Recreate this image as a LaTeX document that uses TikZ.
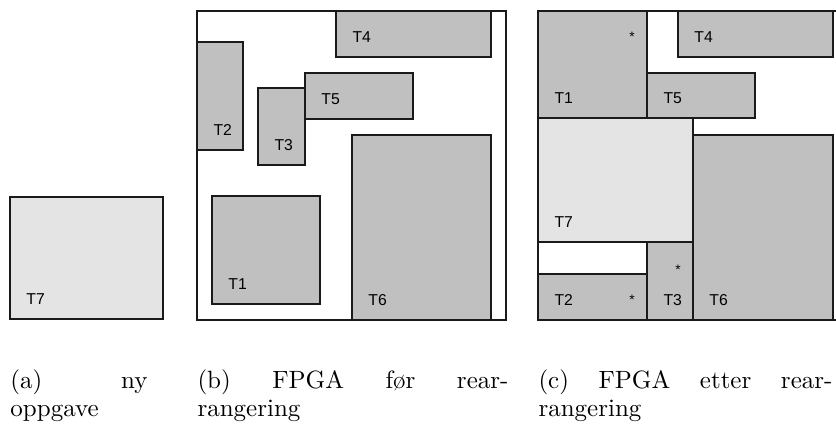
\documentclass[tikz,border=0pt]{standalone}
\usepackage{fontspec}
\newfontfamily\tasklabelfont{Liberation Sans}
\definecolor{taskgray}{HTML}{C0C0C0}
\definecolor{newtask}{HTML}{E4E4E4}
\definecolor{edge}{HTML}{1A1A1A}
\tikzset{
  frame/.style={draw=edge, line width=0.7pt},
  placed/.style={draw=edge, line width=0.7pt, fill=taskgray},
  incoming/.style={draw=edge, line width=0.7pt, fill=newtask},
  tlabel/.style={anchor=base west, inner sep=0pt, text=black,
                 font=\tasklabelfont\fontsize{6.3}{7}\selectfont},
  marker/.style={anchor=base, inner sep=0pt, text=black,
                 font=\tasklabelfont\fontsize{5.5}{6}\selectfont},
  subcap/.style={anchor=base west, inner sep=0pt,
                 font=\fontsize{10}{11.5}\selectfont},
}
% task rectangle with its label in the lower left corner
% #1 name, #2..#5 corners (x1,y1,x2,y2), #6 style, #7 label
\newcommand\taskbox[7]{%
  \draw[#6] (#2,#3) rectangle (#4,#5);
  \node[tlabel] (#1) at ({#2+16},{#5-15}) {#7};
}
\begin{document}
\begin{tikzpicture}[x=0.4pt, y=-0.4pt]
\useasboundingbox (0,0) rectangle (836,423);

% (a) the new task
\taskbox{a-T7}{10}{197}{163}{319}{incoming}{T7}

% (b) device before rearrangement
\draw[frame] (197,11) rectangle (506,320);
\taskbox{b-T4}{336}{11}{491}{57}{placed}{T4}
\taskbox{b-T2}{197}{42}{243}{150}{placed}{T2}
\taskbox{b-T3}{258}{88}{305}{165}{placed}{T3}
\taskbox{b-T5}{305}{73}{413}{119}{placed}{T5}
\taskbox{b-T6}{352}{135}{491}{320}{placed}{T6}
\taskbox{b-T1}{212}{196}{320}{304}{placed}{T1}

% (c) device after rearrangement
\begin{scope}
  \clip (0,0) rectangle (836,423);
  \draw[frame] (538,11) rectangle (847,320);
  \taskbox{c-T1}{538}{11}{647}{118}{placed}{T1}
  \taskbox{c-T4}{678}{11}{833}{57}{placed}{T4}
  \taskbox{c-T5}{647}{73}{755}{118}{placed}{T5}
  \taskbox{c-T7}{538}{118}{693}{242}{incoming}{T7}
  \taskbox{c-T6}{693}{135}{833}{320}{placed}{T6}
  \taskbox{c-T3}{647}{242}{693}{320}{placed}{T3}
  \taskbox{c-T2}{538}{274}{647}{320}{placed}{T2}
\end{scope}
% moved tasks
\node[marker] (c-T1-moved) at (632,41) {*};
\node[marker] (c-T3-moved) at (678,274) {*};
\node[marker] (c-T2-moved) at (632,304) {*};

% sub-captions
\node[subcap] (cap-a) at (10,388) {\parbox[t]{54.8pt}{(a) ny\linebreak oppgave}};
\node[subcap] (cap-b) at (197,388) {\parbox[t]{124.4pt}{(b) FPGA før rear-\linebreak rangering}};
\node[subcap] (cap-c) at (538,388) {\parbox[t]{117.6pt}{(c) FPGA etter rear-\linebreak rangering}};
\end{tikzpicture}
\end{document}
